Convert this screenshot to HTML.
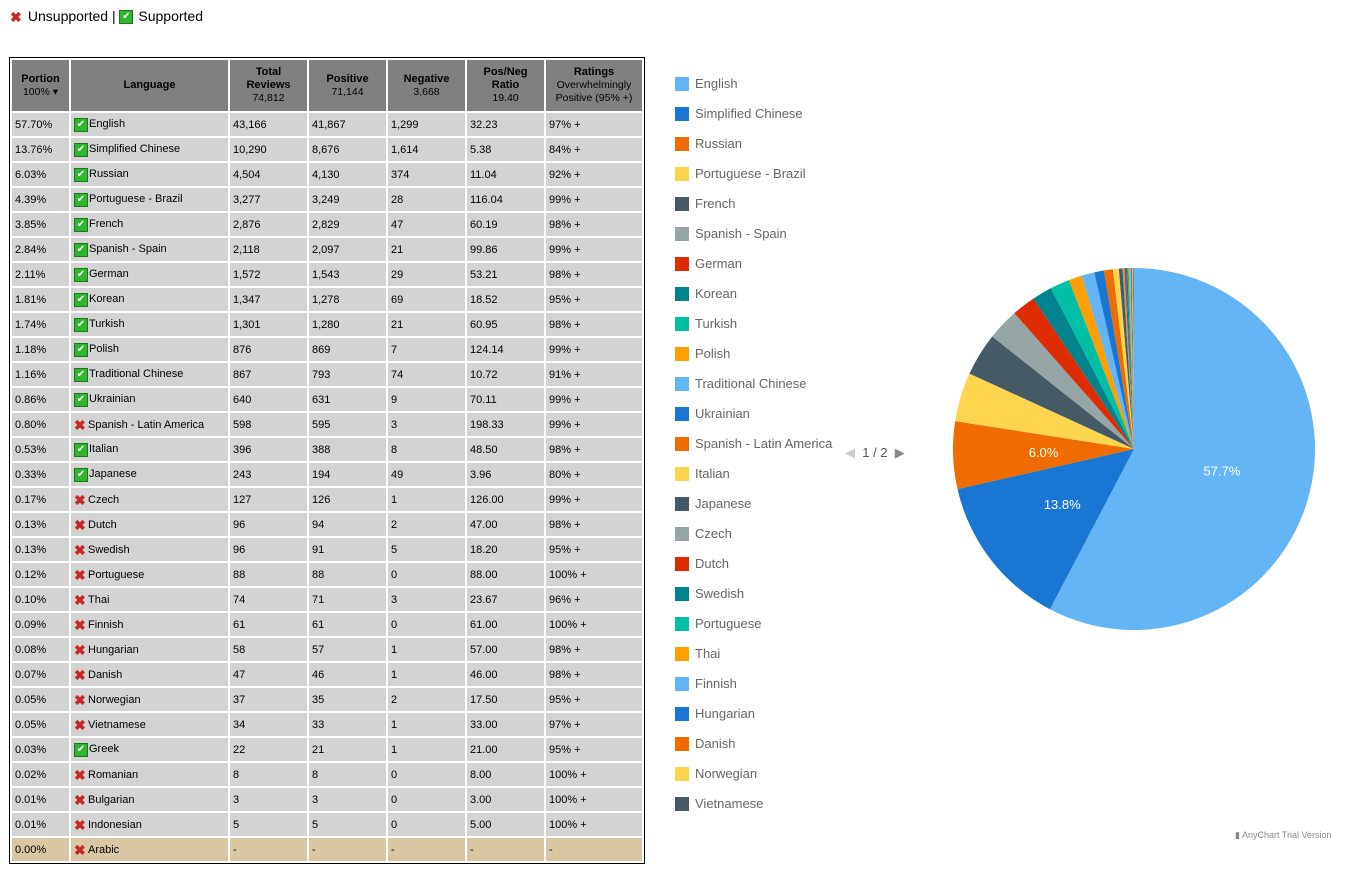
<!DOCTYPE html>
<html><head><meta charset="utf-8"><style>
body{margin:0;width:1365px;height:878px;background:#fff;font-family:"Liberation Sans",Arial,sans-serif;position:relative;overflow:hidden}
.top{position:absolute;left:10px;top:8px;font-size:14px;color:#000}
.ck{display:inline-block;width:12px;height:12px;background:#2fb52f;border:1px solid #1a7a1a;color:#fff;font-size:10px;line-height:12px;text-align:center;vertical-align:middle;margin-right:1px}
.xx{display:inline-block;width:13px;color:#c62828;font-weight:bold;font-size:14px;line-height:12px;margin-right:1px;vertical-align:middle}
#tbl{position:absolute;left:9px;top:57px;width:634px;height:805px;border:1px solid #000;background:#fff}
table{border-collapse:separate;border-spacing:2px;font-size:11px;width:634px}
th{background:#808080;color:#000;font-size:11px;height:51px;padding:0;line-height:13px}
th span{font-weight:normal;font-size:10.5px}
td{background:#d3d3d3;height:23px;padding:0 0 0 3px;white-space:nowrap;line-height:14px;vertical-align:middle}
tr.last td{background:#d8c6a4}
#legend{position:absolute;left:675px;top:76px;font-size:13px;color:#666;white-space:nowrap}
.li{height:30px;position:relative}
.li i{position:absolute;left:0;top:1px;width:14px;height:14px}
.li b{position:absolute;left:20px;top:0;font-weight:normal}
</style></head><body>
<div class="top"><span class="xx">✖</span> Unsupported | <span class="ck">✔</span> Supported</div>
<div id="tbl"><table id="t">
<tr>
<th style="width:57px">Portion<br><span>100% ▾</span></th>
<th style="width:157px">Language</th>
<th style="width:77px">Total<br>Reviews<br><span>74,812</span></th>
<th style="width:77px">Positive<br><span>71,144</span></th>
<th style="width:77px">Negative<br><span>3,668</span></th>
<th style="width:77px">Pos/Neg<br>Ratio<br><span>19.40</span></th>
<th>Ratings<br><span>Overwhelmingly<br>Positive (95% +)</span></th>
</tr></table></div>
<div id="legend"></div>
<div style="position:absolute;left:845px;top:445px;font-size:13px;color:#555"><span style="color:#ccc">◀</span>&nbsp;&nbsp;1 / 2&nbsp;&nbsp;<span style="color:#888">▶</span></div>
<svg id="pie" width="1365" height="878" style="position:absolute;left:0;top:0;pointer-events:none"></svg>
<div style="position:absolute;left:1235px;top:830px;font-size:9px;color:#888">▮ AnyChart Trial Version</div>
<script>
const languages=["English","Simplified Chinese","Russian","Portuguese - Brazil","French","Spanish - Spain","German","Korean","Turkish","Polish","Traditional Chinese","Ukrainian","Spanish - Latin America","Italian","Japanese","Czech","Dutch","Swedish","Portuguese","Thai","Finnish","Hungarian","Danish","Norwegian","Vietnamese","Greek","Romanian","Bulgarian","Indonesian","Arabic"];
const portions=["57.70","13.76","6.03","4.39","3.85","2.84","2.11","1.81","1.74","1.18","1.16","0.86","0.80","0.53","0.33","0.17","0.13","0.13","0.12","0.10","0.09","0.08","0.07","0.05","0.05","0.03","0.02","0.01","0.01","0.00"];
const supported=[1,1,1,1,1,1,1,1,1,1,1,1,0,1,1,0,0,0,0,0,0,0,0,0,0,1,0,0,0,0];
const totals=[43166,10290,4504,3277,2876,2118,1572,1347,1301,876,867,640,598,396,243,127,96,96,88,74,61,58,47,37,34,22,8,3,5,0];
const positives=[41867,8676,4130,3249,2829,2097,1543,1278,1280,869,793,631,595,388,194,126,94,91,88,71,61,57,46,35,33,21,8,3,5,0];
const negatives=[1299,1614,374,28,47,21,29,69,21,7,74,9,3,8,49,1,2,5,0,3,0,1,1,2,1,1,0,0,0,0];
const ratios=["32.23","5.38","11.04","116.04","60.19","99.86","53.21","18.52","60.95","124.14","10.72","70.11","198.33","48.50","3.96","126.00","47.00","18.20","88.00","23.67","61.00","57.00","46.00","17.50","33.00","21.00","8.00","3.00","5.00","-"];
const ratings=["97%","84%","92%","99%","98%","99%","98%","95%","98%","99%","91%","99%","99%","98%","80%","99%","98%","95%","100%","96%","100%","98%","98%","95%","97%","95%","100%","100%","100%","-"];
const palette=["#64b5f6","#1976d2","#ef6c00","#ffd54f","#455a64","#96a6a6","#dd2c00","#00838f","#00bfa5","#ffa000"];
const sum=totals.reduce((a,b)=>a+b,0);
const fmt=n=>n.toLocaleString('en-US');
const t=document.getElementById('t');
languages.forEach((l,i)=>{
 const tr=document.createElement('tr');
 
 
 const z=totals[i]===0;
 if(z)tr.className='last';
 const icon=supported[i]?'<span class="ck">✔</span>':'<span class="xx">✖</span>';
 tr.innerHTML=`<td>${portions[i]}%</td><td>${icon}${l}</td><td>${z?'-':fmt(totals[i])}</td><td>${z?'-':fmt(positives[i])}</td><td>${z?'-':fmt(negatives[i])}</td><td>${ratios[i]}</td><td>${z?'-':ratings[i]+' +'}</td>`;
 t.appendChild(tr);
});
const lg=document.getElementById('legend');
languages.slice(0,25).forEach((l,i)=>{
 const d=document.createElement('div');d.className='li';
 
 
 d.innerHTML=`<i style="background:${palette[i%10]}"></i><b>${l}</b>`;
 lg.appendChild(d);
});
const svg=document.getElementById('pie'),NS='http://www.w3.org/2000/svg';
const cx=1134,cy=449,r=181;
let a=0;
const pt=(ang,rr)=>[cx+rr*Math.sin(ang),cy-rr*Math.cos(ang)];
totals.forEach((v,i)=>{
 if(!v)return;
 const s=v/sum*2*Math.PI,a2=a+s;
 const p1=pt(a,r),p2=pt(a2,r);
 const p=document.createElementNS(NS,'path');
 p.setAttribute('d',`M${cx},${cy}L${p1[0]},${p1[1]}A${r},${r} 0 ${s>Math.PI?1:0} 1 ${p2[0]},${p2[1]}Z`);
 p.setAttribute('fill',palette[i%10]);
 
 
 svg.appendChild(p);
 if(v/sum>0.05){
  const c=pt(a+s/2,r*0.5);
  const tx=document.createElementNS(NS,'text');
  tx.setAttribute('x',c[0]);tx.setAttribute('y',c[1]+5);
  tx.setAttribute('text-anchor','middle');tx.setAttribute('fill','#fff');
  tx.setAttribute('font-size','13');tx.setAttribute('font-family','Liberation Sans, sans-serif');
  tx.textContent=(v/sum*100).toFixed(1)+'%';
  
  
  svg.appendChild(tx);
 }
 a=a2;
});
</script>
</body></html>
